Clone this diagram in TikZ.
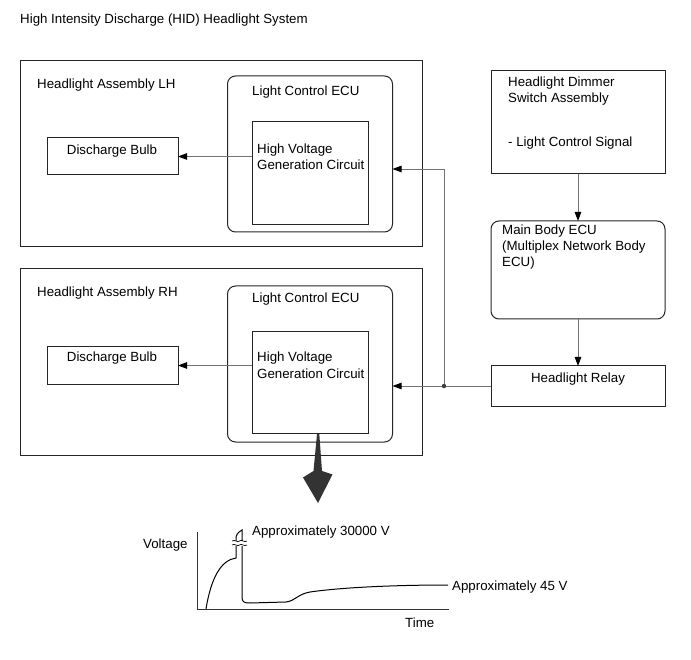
\documentclass[tikz,border=0pt]{standalone}
\usepackage{fontspec}
\setmainfont{Liberation Sans}
\usetikzlibrary{arrows.meta}
\tikzset{
  box/.style={draw=black!85, line width=1pt, inner sep=0pt, outer sep=0pt, fill=none},
  rbox/.style={box, rounded corners=8pt},
  lbl/.style={anchor=base west, inner sep=0pt, font=\fontsize{13.3}{16}\selectfont},
  clbl/.style={anchor=base, inner sep=0pt, font=\fontsize{13.3}{16}\selectfont},
  conn/.style={draw=black!55, line width=0.9pt, -{Triangle[length=9pt,width=6.5pt,color=black]}},
  curve/.style={draw=black, line width=1pt},
  axis/.style={draw=black!80, line width=0.9pt},
}
\begin{document}
\begin{tikzpicture}[x=1pt,y=-1pt]
\useasboundingbox (0,0) rectangle (691,660);
% title
\node[lbl] (title) at (20,24) {High Intensity Discharge (HID) Headlight System};
% LH assembly
\node[box, minimum width=402pt, minimum height=186pt] (lh) at (221,154) {};
\node[lbl] (lhlbl) at (37,89) {Headlight Assembly LH};
\node[rbox, minimum width=165pt, minimum height=156pt] (lhECU) at (310,154) {};
\node[lbl] (lhecul) at (252,96) {Light Control ECU};
\node[box, minimum width=116pt, minimum height=103pt] (lhHV) at (310,173.5) {};
\node[lbl] (lhhv1) at (257,154) {High Voltage};
\node[lbl] (lhhv2) at (257,170) {Generation Circuit};
\node[box, minimum width=131pt, minimum height=37pt] (lhBulb) at (112.5,156.5) {};
\node[clbl] (lhbl) at (112,155) {Discharge Bulb};
% RH assembly
\node[box, minimum width=402pt, minimum height=186pt] (rh) at (221,362) {};
\node[lbl] (rhlbl) at (37,297) {Headlight Assembly RH};
\node[rbox, minimum width=165pt, minimum height=156pt] (rhECU) at (310,364) {};
\node[lbl] (rhecul) at (252,303) {Light Control ECU};
\node[box, minimum width=116pt, minimum height=101pt] (rhHV) at (310,382.5) {};
\node[lbl] (rhhv1) at (257,362) {High Voltage};
\node[lbl] (rhhv2) at (257,378) {Generation Circuit};
\node[box, minimum width=131pt, minimum height=37pt] (rhBulb) at (112.5,365.5) {};
\node[clbl] (rhbl) at (112,362) {Discharge Bulb};
% right column
\node[box, minimum width=174pt, minimum height=103pt] (dim) at (578,122.5) {};
\node[lbl] (dim1) at (508,87) {Headlight Dimmer};
\node[lbl] (dim2) at (508,103) {Switch Assembly};
\node[lbl] (dim3) at (508,147) {- Light Control Signal};
\node[rbox, minimum width=174pt, minimum height=98pt] (mecu) at (578,270) {};
\node[lbl] (m1) at (502,235) {Main Body ECU};
\node[lbl] (m2) at (502,251) {(Multiplex Network Body};
\node[lbl] (m3) at (502,267) {ECU)};
\node[box, minimum width=174pt, minimum height=40pt] (relay) at (578,386) {};
\node[clbl] (rl) at (578,382) {Headlight Relay};
% connectors
\draw[conn] (dim.south) -- (mecu.north);
\draw[conn] (mecu.south) -- (relay.north);
\coordinate (jn) at (444,386);
\draw[conn] (relay.west) -- (rhECU.east |- relay.west);
\draw[conn] (jn) |- ([yshift=-15pt]lhECU.east);
\fill[black!75] (jn) circle (2.2pt);
\draw[conn] (lhHV.west |- lhBulb.east) -- (lhBulb.east);
\draw[conn] (rhHV.west |- rhBulb.east) -- (rhBulb.east);
% big arrow
\coordinate (bigtop) at (318,433);
\fill[black!80] (317,434) -- (319.3,434) -- (322,471) -- (332.5,474.5) -- (318,503) -- (303,477.5) -- (313.5,471) -- cycle;
% graph
\draw[axis] (197,532) -- (197,609) -- (449,609);
\draw[curve] (206,609) .. controls (211,578) and (221,560) .. (236,558) -- (236,537);
\draw[curve] (236,537) .. controls (237,533) and (240,531) .. (242,530) -- (242,597)
  .. controls (242,602) and (244,603) .. (250,603) -- (286,602)
  .. controls (295,601) and (298,594) .. (310,592)
  .. controls (345,587) and (400,585) .. (448,585);
\fill[white] (232,540.5) rectangle (247,545.5);
\draw[black, line width=0.7pt] (232,541) .. controls (235,539) and (237,543) .. (239.5,541) .. controls (242,539) and (244,543) .. (247,541);
\draw[black, line width=0.7pt] (232,545) .. controls (235,543) and (237,547) .. (239.5,545) .. controls (242,543) and (244,547) .. (247,545);
\node[lbl] (vlt) at (143,548) {Voltage};
\node[lbl] (a30) at (252,535) {Approximately 30000 V};
\node[lbl] (a45) at (452,590) {Approximately 45 V};
\node[lbl] (tm) at (405,627) {Time};
\end{tikzpicture}
\end{document}
